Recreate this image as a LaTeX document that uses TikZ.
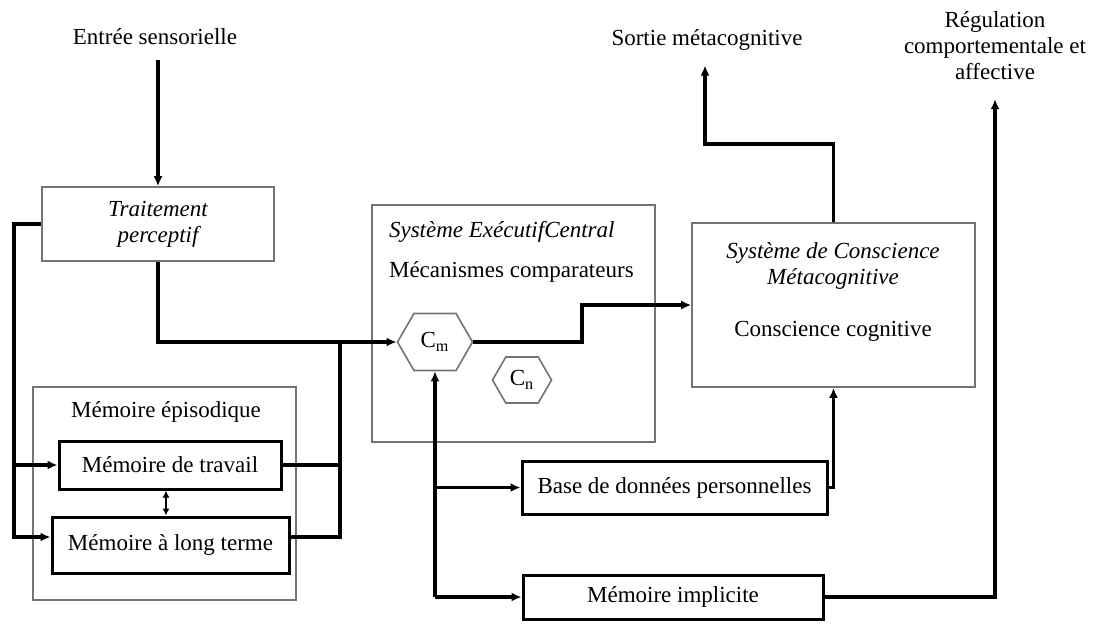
\documentclass[tikz,border=0pt]{standalone}
\usepackage{fontspec}
\setmainfont{Liberation Serif}
\usetikzlibrary{arrows.meta,shapes.symbols}
\newcommand{\figfont}{\fontsize{11.5}{13}\selectfont}

\begin{document}
\begin{tikzpicture}[x=0.5pt, y=-0.5pt,
    every node/.style={font=\figfont},
    greybox/.style={draw=black!55, line width=0.8pt, inner sep=0pt},
    blackbox/.style={draw, line width=1.5pt, inner sep=0pt},
    hexa/.style={signal, signal to=west and east, signal pointer angle=120, draw=black!55, line width=0.8pt, inner sep=0pt},
    link/.style={line width=1.6pt},
    arrow/.style={link, -{Latex[length=5pt, width=4.5pt]}}]
    \useasboundingbox (0,0) rectangle (1096,623);

    \node (entree) at (155,37) {Entrée sensorielle};
    \node (sortie) at (707,40) {Sortie métacognitive};
    \node[align=center] (regul) at (995,46) {Régulation\\comportementale et\\affective};

    \node[greybox, minimum width=116pt, minimum height=37pt, align=center, font=\figfont\itshape] (trait) at (158,224) {Traitement\\perceptif};

    \node[greybox, minimum width=131.5pt, minimum height=106.5pt] (episo) at (164.5,493.5) {};
    \node (episolbl) at (166,412) {Mémoire épisodique};
    \node[blackbox, minimum width=111pt, minimum height=24pt] (travail) at (170,465) {Mémoire de travail};
    \node[blackbox, minimum width=118.5pt, minimum height=28pt] (longt) at (170.5,545) {Mémoire à long terme};

    \node[greybox, minimum width=141.5pt, minimum height=118.5pt] (sec) at (513.5,323.5) {};
    \node[anchor=west, font=\figfont\itshape] (sectitle) at (382,232) {Système ExécutifCentral};
    \node[anchor=west] (secmeca) at (382,272) {Mécanismes comparateurs};
    \node[hexa, minimum width=37.5pt, minimum height=28.5pt] (cm) at (435,342) {C\textsubscript{m}};
    \node[hexa, minimum width=29.5pt, minimum height=23pt] (cn) at (522,380) {C\textsubscript{n}};

    \node[greybox, minimum width=141.5pt, minimum height=82pt] (consc) at (833.5,305) {};
    \node[align=center, font=\figfont\itshape] (consctitle) at (833,266) {Système de Conscience\\Métacognitive};
    \node (conscog) at (833,331) {Conscience cognitive};

    \node[blackbox, minimum width=152.5pt, minimum height=26.5pt] (base) at (674.5,487.5) {Base de données personnelles};
    \node[blackbox, minimum width=150pt, minimum height=22pt] (impl) at (673,597) {Mémoire implicite};

    \coordinate (lft) at (14,537);
    \coordinate (mid) at (340,342);
    \coordinate (bend) at (582,305);
    \coordinate (top) at (705,144);

    \draw[arrow, shorten <=4pt] (trait.north |- entree.south) -- (trait.north);
    \draw[arrow] (trait.west) -| (lft) -- (lft -| longt.west);
    \draw[arrow] (lft |- travail.west) -- (travail.west);
    \draw[arrow] (trait.south) |- (cm.west);
    \draw[link] (travail.east) -| (mid);
    \draw[link] (lft -| longt.east) -| (mid);
    \draw[line width=1pt, {Latex[length=3.5pt, width=3.5pt]}-{Latex[length=3.5pt, width=3.5pt]}] ([xshift=-2pt]travail.south) -- ([xshift=-2pt]travail.south |- longt.north);

    \draw[arrow] (cm.east) -| (bend) -- (consc.west);
    \draw[arrow, shorten >=4pt] (consc.north) |- (top) -- (top |- sortie.south);
    \draw[arrow] (cm.south |- impl.west) -- (cm.south);
    \draw[arrow] (cm.south |- base.west) -- (base.west);
    \draw[arrow] (cm.south |- impl.west) -- (impl.west);
    \draw[arrow, line width=1.1pt] (base.east) -| (consc.south);
    \draw[arrow, shorten >=6pt] (impl.east) -| (impl.east -| regul.south) -- (regul.south);
\end{tikzpicture}
\end{document}
